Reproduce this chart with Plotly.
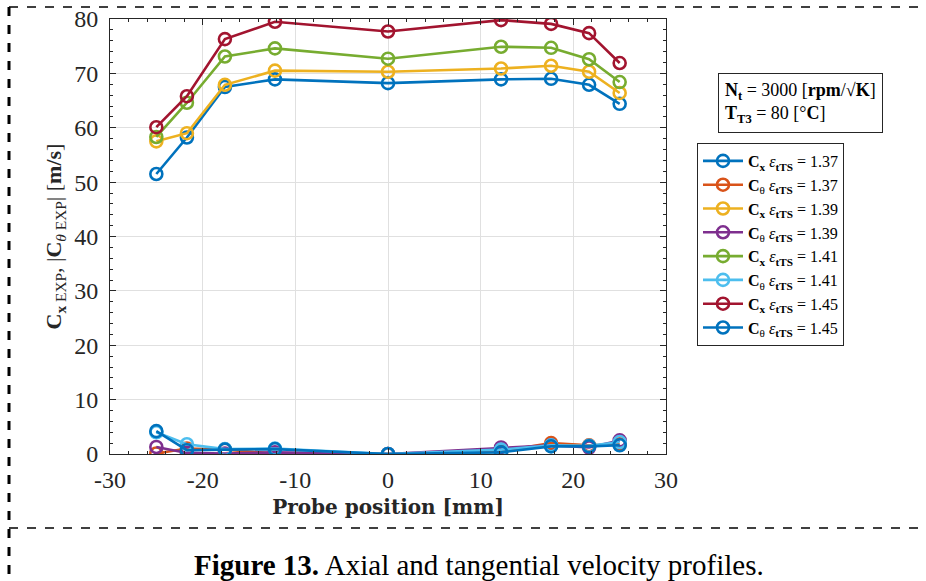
import plotly.graph_objects as go

# Probe positions [mm]
position = [-25, -21.7, -17.6, -12.2, 0, 12.2, 17.6, 21.7, 25]

# Axial velocity Cx [m/s] for each total-to-static expansion ratio
cx_137 = [51.5, 58.2, 67.5, 68.9, 68.2, 68.9, 69.0, 67.9, 64.4]
cx_139 = [57.5, 59.0, 67.9, 70.5, 70.3, 70.9, 71.4, 70.3, 66.4]
cx_141 = [58.3, 64.6, 73.1, 74.6, 72.7, 74.9, 74.7, 72.6, 68.4]
cx_145 = [60.1, 65.8, 76.3, 79.5, 77.7, 79.8, 79.1, 77.4, 71.9]

# Tangential velocity |Ctheta| [m/s]
ct_137 = [0.1, 1.0, 0.8, 0.1, 0.0, 0.5, 2.0, 1.6, 1.8]
ct_139 = [1.3, 0.2, 0.1, 0.3, 0.0, 1.2, 1.6, 1.2, 2.5]
ct_141 = [4.0, 1.8, 0.9, 1.0, 0.0, 0.8, 1.6, 1.5, 2.2]
ct_145 = [4.2, 0.7, 0.8, 0.9, 0.0, 0.3, 1.4, 1.4, 1.6]

series = [
    ("C", "x", "1.37", cx_137, "#0072BD"),
    ("C", "θ", "1.37", ct_137, "#D95319"),
    ("C", "x", "1.39", cx_139, "#EDB120"),
    ("C", "θ", "1.39", ct_139, "#7E2F8E"),
    ("C", "x", "1.41", cx_141, "#77AC30"),
    ("C", "θ", "1.41", ct_141, "#4DBEEE"),
    ("C", "x", "1.45", cx_145, "#A2142F"),
    ("C", "θ", "1.45", ct_145, "#0072BD"),
]

x_ticks = [-30, -20, -10, 0, 10, 20, 30]
y_ticks = [0, 10, 20, 30, 40, 50, 60, 70, 80]

SERIF = "Liberation Serif, Times New Roman, serif"
MATH = "DejaVu Serif, serif"
W, H = 926, 581
L, R, T, B = 110, 666, 19, 454  # plot-area edges in pixels


def px(xp):
    return (xp - L) / (R - L)


def py(yp):
    return (B - yp) / (B - T)


fig = go.Figure()
for base, sub, eps, vals, col in series:
    sub_txt = f"<b>{sub}</b>" if sub == "x" else sub
    fig.add_trace(go.Scatter(
        x=position, y=vals, mode="lines+markers",
        name=f"<b>{base}</b><sub>{sub_txt}</sub> <i>ε</i><sub><b>tTS</b></sub> = {eps}",
        line=dict(color=col, width=2.6),
        marker=dict(symbol="circle-open", size=12, color=col, line=dict(width=2.6, color=col)),
    ))

axis_common = dict(
    showline=True, linecolor="#262626", linewidth=1, mirror="ticks",
    ticks="inside", ticklen=6, tickcolor="#262626",
    showgrid=True, gridcolor="#E0E0E0", gridwidth=1, zeroline=False,
    tickfont=dict(family=SERIF, size=24, color="#262626"),
    minor=dict(ticks="inside", ticklen=3, tickcolor="#262626", dtick=2, showgrid=False),
    automargin=False,
)

fig.update_xaxes(
    range=[-30, 30], tickvals=x_ticks, ticktext=[str(v) for v in x_ticks],
    ticklabelstandoff=4,
    title=dict(text="<b>Probe position [mm]</b>", font=dict(family=MATH, size=20, color="#262626"), standoff=8),
    **axis_common,
)
fig.update_yaxes(
    range=[0, 80], tickvals=y_ticks, ticktext=[str(v) for v in y_ticks],
    ticklabelstandoff=6,
    title=dict(text="<b>C</b><sub><b>x</b> EXP</sub>, |<b>C</b><sub><i>θ</i> EXP</sub>| [<b>m/s</b>]",
               font=dict(family=SERIF, size=22, color="#262626"), standoff=6),
    **axis_common,
)

# Dashed frame around the figure and the caption underneath
dash_line = dict(color="black", width=1.5, dash="dash")
fig.add_shape(type="line", xref="paper", yref="paper", x0=px(9), x1=px(925), y0=py(7), y1=py(7), line=dash_line)
fig.add_shape(type="line", xref="paper", yref="paper", x0=px(9), x1=px(925), y0=py(528), y1=py(528), line=dash_line)
fig.add_shape(type="line", xref="paper", yref="paper", x0=px(9), x1=px(9), y0=py(7), y1=py(581),
              line=dict(color="black", width=3, dash="dash"))

fig.add_annotation(
    xref="paper", yref="paper", x=px(479), y=py(565), xanchor="center", yanchor="middle",
    text="<b>Figure 13.</b> Axial and tangential velocity profiles.",
    showarrow=False, font=dict(family=SERIF, size=29, color="black"),
)

# Operating-point box
fig.add_annotation(
    xref="paper", yref="paper", x=px(718), y=py(73), xanchor="left", yanchor="top",
    text="<b>N</b><sub><b>t</b></sub> = 3000 [<b>rpm</b>/√<b>K</b>]<br><b>T</b><sub><b>T3</b></sub> = 80 [°<b>C</b>]",
    align="left", showarrow=False, bordercolor="#262626", borderwidth=1, borderpad=6,
    bgcolor="white", font=dict(family=SERIF, size=18, color="black"),
)

fig.update_layout(
    width=W, height=H,
    margin=dict(l=L, r=W - R, t=T, b=H - B),
    paper_bgcolor="white", plot_bgcolor="white",
    showlegend=True,
    legend=dict(
        x=px(697), y=py(143), xanchor="left", yanchor="top",
        bordercolor="#262626", borderwidth=1, bgcolor="white",
        font=dict(family=SERIF, size=16, color="black"),
        tracegroupgap=0, itemwidth=40,
    ),
)

fig.write_html("out.html")
